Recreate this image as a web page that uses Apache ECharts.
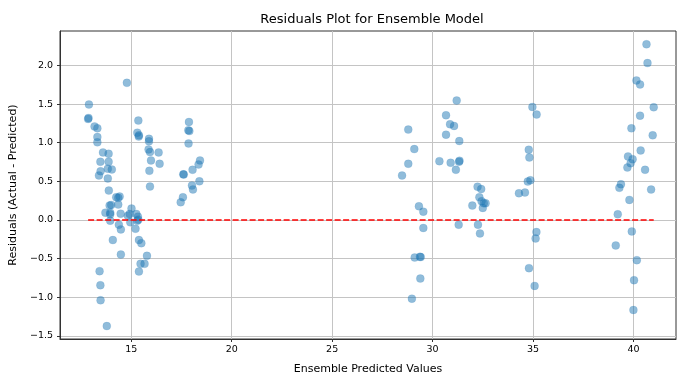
<!DOCTYPE html>
<html>
<head>
<meta charset="utf-8">
<script src="https://cdn.jsdelivr.net/npm/echarts@6/dist/echarts.min.js"></script>
<style>
html,body{margin:0;padding:0;background:#fff;}
#chart{width:677px;height:374px;}
</style>
</head>
<body>
<div id="chart"></div>
<script>
const predicted = [
14.78,12.89,12.85,12.87,13.17,13.31,13.31,13.31,13.59,13.87,13.46,13.87,13.83,14.03,13.47,13.39,13.83,13.88,
15.35,15.30,15.38,15.37,15.88,15.88,15.86,15.93,16.36,15.98,16.41,15.90,15.93,
14.25,14.42,14.35,13.92,14.00,14.35,13.71,13.95,13.95,14.47,15.01,14.83,14.92,15.25,15.33,13.95,14.95,15.30,15.35,
14.38,14.48,15.21,14.08,15.38,15.50,14.48,15.78,15.46,15.66,15.38,13.42,13.46,13.47,13.78,
17.46,17.87,17.84,17.89,17.85,18.42,18.35,18.05,17.59,17.61,18.02,18.07,18.39,17.57,
31.20,30.67,30.87,31.07,30.67,31.33,28.79,29.09,28.79,28.48,30.34,30.90,31.32,31.34,31.16,
32.24,32.42,32.33,32.44,32.55,32.64,32.50,31.98,34.30,34.60,
29.32,29.54,29.54,31.30,32.26,32.36,29.11,29.37,29.41,29.39,28.97,34.80,
34.97,35.18,34.79,34.82,34.87,34.74,35.17,35.13,35.08,
40.65,40.70,40.15,40.33,41.01,40.33,39.90,40.96,40.36,39.73,39.96,39.86,39.70,40.58,39.38,39.30,40.88,
39.80,39.22,39.92,39.12,40.17,40.03,40.00
];
const residuals = [
1.774,1.494,1.307,1.320,1.210,1.186,1.073,1.004,0.874,0.857,0.753,0.753,0.662,0.653,0.630,0.575,0.536,0.380,
1.286,1.130,1.095,1.080,1.050,1.017,0.913,0.878,0.874,0.770,0.727,0.636,0.432,
0.294,0.303,0.286,0.186,0.195,0.199,0.095,0.095,0.073,0.082,0.147,0.056,0.078,0.078,0.043,-0.009,-0.031,-0.009,0.004,
-0.061,-0.122,-0.113,-0.260,-0.260,-0.300,-0.447,-0.464,-0.568,-0.568,-0.667,-0.662,-0.844,-1.039,-1.373,
0.229,1.268,1.160,1.150,0.990,0.770,0.718,0.649,0.590,0.588,0.445,0.394,0.500,0.294,
1.545,1.355,1.238,1.216,1.104,1.021,1.169,0.917,0.727,0.575,0.761,0.740,0.753,0.766,0.649,
0.430,0.400,0.294,0.242,0.216,0.216,0.156,0.186,0.345,0.355,
0.177,0.108,-0.104,-0.061,-0.061,-0.174,-0.486,-0.477,-0.480,-0.758,-1.018,-0.623,
1.462,1.364,0.909,0.809,0.514,0.497,-0.156,-0.239,-0.853,
2.273,2.030,1.805,1.753,1.458,1.350,1.186,1.095,0.900,0.822,0.787,0.735,0.679,0.649,0.462,0.416,0.394,
0.260,0.073,-0.148,-0.330,-0.520,-0.779,-1.165
];
const xTicks = [15, 20, 25, 30, 35, 40];
const yTicks = [-1.5, -1.0, -0.5, 0.0, 0.5, 1.0, 1.5, 2.0];
const titleText = 'Residuals Plot for Ensemble Model';
const xLabel = 'Ensemble Predicted Values';
const yLabel = 'Residuals (Actual - Predicted)';

const points = predicted.map((x, i) => [x, residuals[i]]);
const xmin = Math.min(...predicted), xmax = Math.max(...predicted);
const font = 'DejaVu Sans';
const fmtY = v => (v < 0 ? '\u2212' : '') + Math.abs(v).toFixed(1);

const chart = echarts.init(document.getElementById('chart'), null, {renderer: 'canvas'});
chart.setOption({
  animation: false,
  backgroundColor: '#fff',
  title: {
    text: titleText, left: 367, top: 8, textAlign: 'center',
    textStyle: {fontFamily: font, fontSize: 13, fontWeight: 'normal', color: '#000'}
  },
  grid: {left: 60, right: 1, top: 31, bottom: 35, show: true, borderColor: '#333', borderWidth: 1,
         containLabel: false, outerBoundsMode: 'none'},
  xAxis: {
    type: 'value', min: 11.45, max: 42.12,
    name: xLabel, nameLocation: 'middle', nameGap: 25,
    nameTextStyle: {fontFamily: font, fontSize: 11, color: '#000'},
    axisLine: {show: true, onZero: false, lineStyle: {color: '#333', width: 1}},
    axisTick: {show: true, length: 3, inside: false, customValues: xTicks, lineStyle: {color: '#333'}},
    axisLabel: {customValues: xTicks, margin: 6, fontFamily: font, fontSize: 9.5, color: '#000'},
    splitLine: {show: true, lineStyle: {color: '#c4c4c4', width: 1}}
  },
  yAxis: {
    type: 'value', min: -1.54, max: 2.445,
    name: yLabel, nameLocation: 'middle', nameGap: 37, nameRotate: 90,
    nameTextStyle: {fontFamily: font, fontSize: 11, color: '#000'},
    axisLine: {show: true, onZero: false, lineStyle: {color: '#333', width: 1}},
    axisTick: {show: true, length: 3, customValues: yTicks, lineStyle: {color: '#333'}},
    axisLabel: {customValues: yTicks, margin: 7, fontFamily: font, fontSize: 9.5, color: '#000', formatter: fmtY},
    splitLine: {show: true, lineStyle: {color: '#c4c4c4', width: 1}}
  },
  series: [
    {
      type: 'scatter', data: points, symbolSize: 8, z: 2,
      itemStyle: {color: 'rgba(31,119,180,0.62)', borderColor: 'rgba(31,119,180,0.3)', borderWidth: 0.5}
    },
    {
      type: 'line', data: [[xmin, 0], [xmax, 0]], symbol: 'none', z: 3,
      lineStyle: {color: '#ff0000', width: 1.5, type: [6, 2.5]}
    }
  ]
});
</script>
</body>
</html>
